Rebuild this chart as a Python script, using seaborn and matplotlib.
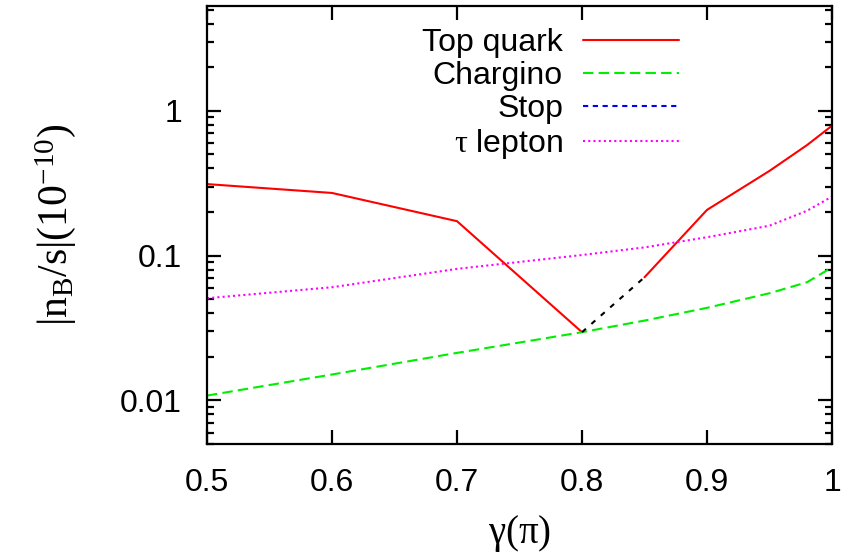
import matplotlib
matplotlib.use("Agg")
import matplotlib.pyplot as plt
import matplotlib.ticker as mticker
import seaborn as sns
import numpy as np
import pandas as pd

# gamma in units of pi
top_x1 = [0.5, 0.6, 0.7, 0.8]
top_y1 = [0.312, 0.271, 0.173, 0.0296]
top_x2 = [0.85, 0.9, 0.95, 0.98, 1.0]
top_y2 = [0.0709, 0.207, 0.385, 0.58, 0.79]

gap_x = [0.8, 0.85]
gap_y = [0.0296, 0.0709]

chargino_x = [0.5, 0.6, 0.7, 0.8, 0.85, 0.9, 0.95, 0.98, 1.0]
chargino_y = [0.0108, 0.0151, 0.0213, 0.0296, 0.0356, 0.0436, 0.055, 0.0655, 0.083]

tau_x = [0.5, 0.6, 0.7, 0.8, 0.85, 0.9, 0.95, 0.98, 1.0]
tau_y = [0.0508, 0.0605, 0.081, 0.101, 0.114, 0.134, 0.161, 0.204, 0.256]

xticks = [0.5, 0.6, 0.7, 0.8, 0.9, 1.0]
xticklabels = ["0.5", "0.6", "0.7", "0.8", "0.9", "1"]
yticks = [0.01, 0.1, 1]
yticklabels = ["0.01", "0.1", "1"]

sns.set_style("ticks", {"axes.edgecolor": "black", "text.color": "black",
                        "axes.labelcolor": "black", "xtick.color": "black",
                        "ytick.color": "black"})
plt.rcParams["font.family"] = ["Liberation Sans", "DejaVu Sans"]
plt.rcParams["mathtext.fontset"] = "custom"
plt.rcParams["mathtext.rm"] = "Liberation Serif"
plt.rcParams["mathtext.it"] = "Liberation Serif"

fig = plt.figure(figsize=(8.41, 5.58), dpi=100)
ax = fig.add_axes([207 / 841, 1 - 444 / 558, 625 / 841, 438 / 558])

lw = 1.5
sns.lineplot(x=top_x1, y=top_y1, color="#ff0000", lw=lw, ax=ax,
             estimator=None, label="Top quark")
sns.lineplot(x=top_x2, y=top_y2, color="#ff0000", lw=lw, ax=ax,
             estimator=None)
sns.lineplot(x=chargino_x, y=chargino_y, color="#00ee00", lw=lw, ax=ax,
             estimator=None, linestyle=(0, (5, 2.5)), label="Chargino")
ax.plot([], [], color="#0000ff", lw=lw, linestyle=(0, (2.5, 2.2)), label="Stop")
sns.lineplot(x=tau_x, y=tau_y, color="#ff00ff", lw=lw, ax=ax,
             estimator=None, linestyle=(0, (1, 1.5)),
             label=r"$\mathrm{\tau}$ lepton")
sns.lineplot(x=gap_x, y=gap_y, color="black", lw=lw, ax=ax,
             estimator=None, linestyle=(0, (2.5, 3.5)))

ax.set_yscale("log")
ax.set_xlim(0.5, 1.0)
ax.set_ylim(0.005, 5.3)
ax.set_xticks(xticks)
ax.set_xticklabels(xticklabels)
ax.set_yticks(yticks)
ax.set_yticklabels(yticklabels)
ax.yaxis.set_minor_locator(mticker.LogLocator(base=10, subs=np.arange(2, 10)))
ax.yaxis.set_minor_formatter(mticker.NullFormatter())

for s in ax.spines.values():
    s.set_linewidth(1.6)
    s.set_visible(True)
ax.tick_params(which="both", direction="in", top=True, right=True,
               labelsize=23, width=1.6, colors="black")
ax.tick_params(which="major", length=10)
ax.tick_params(which="minor", length=5)
ax.tick_params(axis="x", which="major", pad=17)
ax.tick_params(axis="y", which="major", pad=18)

ax.set_xlabel(r"$\mathrm{\gamma(\pi)}$", fontsize=28, labelpad=11)
ax.set_ylabel(r"$|\mathrm{n_B/s}|(10^{-10})$", fontsize=30, labelpad=30)

leg = ax.legend(loc="upper right", bbox_to_anchor=(0.755, 0.95),
                markerfirst=False, frameon=False, fontsize=23,
                handlelength=3.0, labelspacing=0.1, borderaxespad=0,
                borderpad=0, handletextpad=0.63)

fig.savefig("out.png", dpi=100)
